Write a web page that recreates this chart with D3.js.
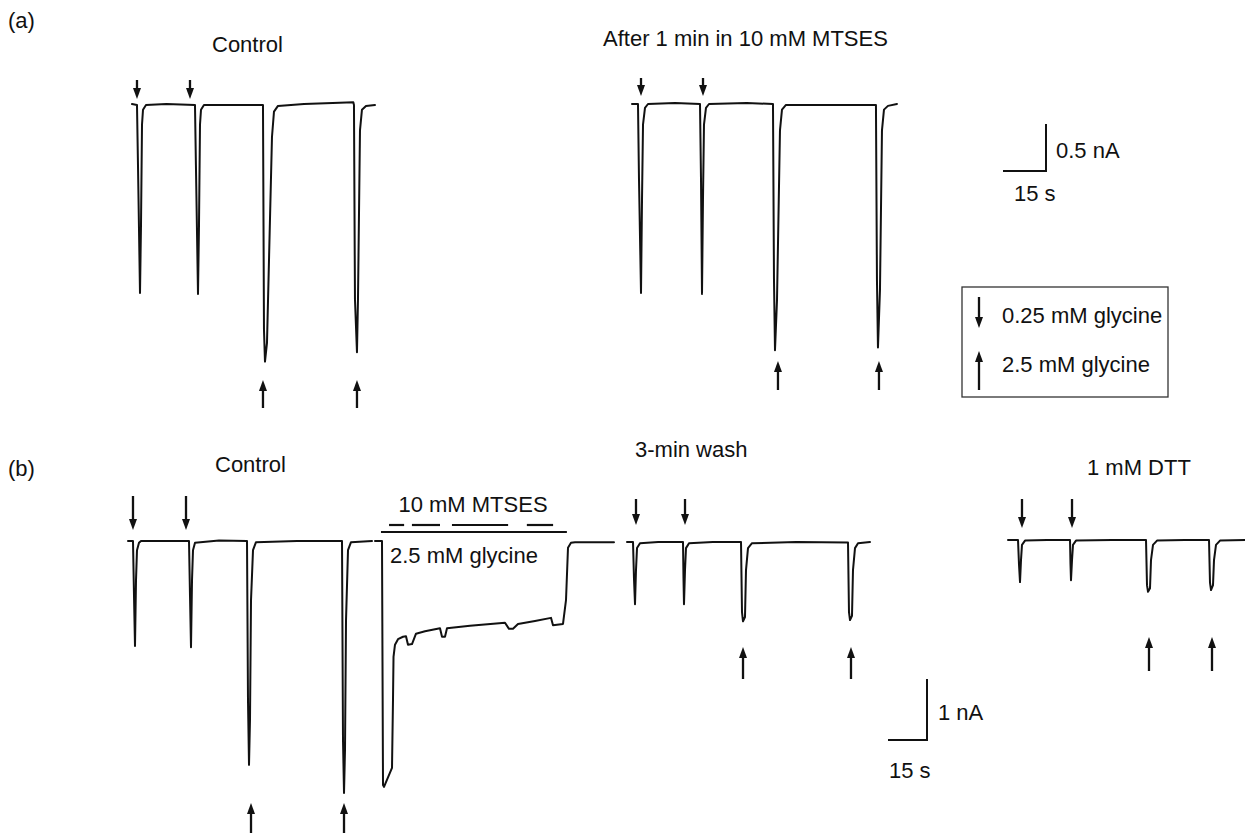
<!DOCTYPE html>
<html>
<head>
<meta charset="utf-8">
<script src="https://cdn.jsdelivr.net/npm/d3@7"></script>
<style>
  html, body { margin: 0; padding: 0; background: #fff; }
  svg { display: block; }
  text { font-family: 'Liberation Sans', Arial, Helvetica, sans-serif; fill: #111; }
</style>
</head>
<body>
<svg id="chart" width="1245" height="835"></svg>
<script>
// ---------------- DATA (time in s from trace start, current in nA) ----------------
const aControl = [
  [0,0.01],[1.74,0],[2.09,-0.64],[2.79,-2.00],[3.14,-1.28],[3.49,-0.21],[3.84,-0.05],[4.88,0],
  [12,0.01],[21.97,0],[22.3,-0.64],[23.02,-2.01],[23.37,-1.28],[23.72,-0.21],[24.07,-0.05],[25.1,0],
  [35,0],[45.69,0],[46.04,-2.39],[46.39,-2.73],[47.09,-2.53],[48.83,-0.34],[49.53,-0.07],[50.92,-0.01],
  [60,0.01],[70,0.02],[77.2,0.03],[77.43,0],[77.78,-2.07],[78.48,-2.63],[78.83,-2.07],[79.53,-0.27],[80.22,-0.05],[81.62,-0.01],[84.76,0]
];
const aMtses = [
  [0,0],[2.09,0],[2.44,-0.8],[3.14,-2.01],[3.49,-1.02],[3.84,-0.22],[4.53,-0.04],[5.58,0],
  [15,0.01],[23.72,0],[24.07,-0.8],[24.42,-2.02],[24.76,-1.02],[25.11,-0.22],[25.81,-0.04],[26.86,0],
  [40,0.01],[49.18,0],[49.53,-1.87],[49.88,-2.62],[50.58,-2.09],[51.62,-0.28],[52.32,-0.06],[53.71,-0.01],
  [70,-0.01],[85.1,-0.01],[85.45,-1.87],[85.8,-2.59],[86.5,-1.98],[87.2,-0.28],[87.9,-0.06],[89.29,-0.02],[92.43,0]
];
const bControl = [
  [0,0],[1.92,0],[2.31,-0.9],[2.69,-1.72],[3.08,-0.64],[3.46,-0.15],[4.23,-0.03],[5,0],
  [15,0],[23.46,0],[23.85,-0.9],[24.23,-1.74],[24.62,-0.64],[25.0,-0.15],[25.77,-0.03],
  [35,0.01],[45.77,0],[46.15,-2.61],[46.54,-3.67],[46.92,-2.93],[47.31,-0.97],[48.08,-0.15],[49.23,-0.02],
  [65,0],[82.31,0],[82.69,-3.26],[83.08,-4.13],[83.46,-3.43],[83.85,-1.30],[84.62,-0.15],[85.77,-0.02],[93.85,0]
];
const bMtses = [
  [0,0],[2.69,0],[3.08,-4.0],[3.46,-4.03],[6.54,-3.72],[6.92,-2.61],[7.12,-1.90],[7.69,-1.70],[8.85,-1.61],
  [10.77,-1.57],[11.92,-1.56],[12.69,-1.70],[14.23,-1.69],[15.77,-1.52],[19.23,-1.48],[25.0,-1.43],[25.77,-1.57],
  [26.92,-1.57],[27.69,-1.43],[36.54,-1.39],[50.0,-1.34],[51.54,-1.44],[53.08,-1.44],[55.0,-1.36],[61.54,-1.31],
  [67.69,-1.26],[68.46,-1.38],[72.31,-1.36],[73.46,-0.97],[74.23,-0.11],[75.38,-0.03],[76.92,-0.02],[91.92,-0.02]
];
const bWash = [
  [0,0],[2.31,0],[2.69,-0.6],[3.08,-1.02],[3.46,-0.46],[3.85,-0.10],[5.0,-0.02],[12,0],
  [21.54,0],[21.73,-0.6],[21.92,-1.02],[22.31,-0.46],[22.69,-0.10],[23.85,-0.02],
  [33,0],[43.85,0],[44.23,-1.15],[44.62,-1.30],[45.38,-1.23],[45.77,-0.46],[46.54,-0.10],[48.08,-0.02],
  [65,0],[85.0,-0.01],[85.38,-1.15],[85.77,-1.28],[86.54,-1.21],[86.92,-0.46],[87.69,-0.10],[88.85,-0.02],[93.46,0]
];
const bDtt = [
  [0,0],[3.85,0],[4.23,-0.4],[4.62,-0.69],[5.0,-0.33],[5.38,-0.08],[6.54,-0.01],[15,0],
  [23.85,0],[24.04,-0.4],[24.23,-0.66],[24.62,-0.33],[25.0,-0.08],[26.15,-0.01],
  [40,0],[53.08,0],[53.46,-0.74],[53.85,-0.85],[54.62,-0.79],[55.0,-0.33],[55.77,-0.08],[57.31,-0.01],
  [68,0],[77.31,0],[77.69,-0.70],[78.08,-0.82],[78.85,-0.74],[79.23,-0.33],[80.0,-0.08],[81.54,-0.01],[91.15,0]
];
// MTSES application bars during 2.5 mM glycine (s from trace start)
const mtsesDashes = [[5.4,11.2],[14.2,25.0],[29.6,51.2],[58.4,68.5]];
const glycineBar = [2.3, 73.8];

// stimulus times (s from trace start): down = 0.25 mM, up = 2.5 mM glycine
const aControlDown = [1.74, 20.23], aControlUp = [45.69, 78.48];
const aMtsesDown = [3.14, 24.77],  aMtsesUp = [50.92, 86.15];
const bControlDown = [1.92, 22.31], bControlUp = [47.31, 83.08];
const bWashDown = [3.46, 22.31],   bWashUp = [44.62, 86.15];
const bDttDown = [5.38, 24.62],    bDttUp = [54.23, 78.46];

// scale bars [seconds, nA]
const scaleBarA = [15, 0.5];
const scaleBarB = [15, 1];
const scaleLabelsA = ["0.5 nA", "15 s"];
const scaleLabelsB = ["1 nA", "15 s"];
const legendLabels = ["0.25 mM glycine", "2.5 mM glycine"];

// ---------------- LAYOUT ----------------
const svg = d3.select("#chart");
svg.append("rect").attr("width", 1245).attr("height", 835).attr("fill", "#fff");
const INK = "#111";

const pxPerSecA = 43 / 15, pxPerNAA = 47 / 0.5;
const pxPerSecB = 39 / 15, pxPerNAB = 61;

function scales(x0, y0, pps, ppn) {
  return {
    x: d3.scaleLinear().domain([0, 15]).range([x0, x0 + 15 * pps]),
    y: d3.scaleLinear().domain([0, -1]).range([y0, y0 + ppn])
  };
}

function drawTrace(data, s, w) {
  const line = d3.line().x(d => s.x(d[0])).y(d => s.y(d[1]));
  svg.append("path").datum(data).attr("d", line)
    .attr("fill", "none").attr("stroke", INK).attr("stroke-width", w || 2)
    .attr("stroke-linejoin", "round").attr("stroke-linecap", "round");
}

function arrow(x, yFrom, yTip) {
  const dir = yTip > yFrom ? 1 : -1;
  const hl = 11, hw = 4;
  svg.append("line").attr("x1", x).attr("x2", x).attr("y1", yFrom).attr("y2", yTip - dir * hl + dir)
    .attr("stroke", INK).attr("stroke-width", 2.3);
  svg.append("path")
    .attr("d", `M${x - hw},${yTip - dir * hl} L${x + hw},${yTip - dir * hl} L${x},${yTip} Z`)
    .attr("fill", INK);
}

function arrows(times, s, yFrom, yTip) {
  times.forEach(t => arrow(s.x(t), yFrom, yTip));
}

function label(txt, x, y, anchor, size) {
  svg.append("text").attr("x", x).attr("y", y).attr("text-anchor", anchor || "start")
    .attr("font-size", size || 22).text(txt);
}

// ---------- Panel (a) ----------
label("(a)", 8, 28, "start", 22);
label("Control", 212, 52);
label("After 1 min in 10 mM MTSES", 603, 46);

const sAC = scales(132, 105, pxPerSecA, pxPerNAA);
drawTrace(aControl, sAC);
arrows(aControlDown, sAC, 80, 99);
arrows(aControlUp, sAC, 408, 380);

const sAM = scales(632, 104, pxPerSecA, pxPerNAA);
drawTrace(aMtses, sAM);
arrows(aMtsesDown, sAM, 78, 96);
arrows(aMtsesUp, sAM, 390, 361);

// scale bar (a)
const sbA = scales(1003, 171, pxPerSecA, pxPerNAA);
svg.append("path")
  .attr("d", `M${sbA.x(0)},${sbA.y(0)} L${sbA.x(scaleBarA[0])},${sbA.y(0)} L${sbA.x(scaleBarA[0])},${sbA.y(scaleBarA[1])}`)
  .attr("fill", "none").attr("stroke", INK).attr("stroke-width", 2);
label(scaleLabelsA[0], 1056, 158);
label(scaleLabelsA[1], 1014, 201);

// legend
svg.append("rect").attr("x", 962).attr("y", 287).attr("width", 206).attr("height", 110)
  .attr("fill", "none").attr("stroke", "#333").attr("stroke-width", 1.3);
arrow(979, 297, 328);
arrow(979, 390, 351);
label(legendLabels[0], 1002, 323);
label(legendLabels[1], 1002, 372);

// ---------- Panel (b) ----------
label("(b)", 8, 476, "start", 22);
label("Control", 215, 472);
label("3-min wash", 635, 457);
label("1 mM DTT", 1087, 475);
label("10 mM MTSES", 473, 512, "middle");
label("2.5 mM glycine", 390, 563);

const sBC = scales(128, 541, pxPerSecB, pxPerNAB);
drawTrace(bControl, sBC);
arrows(bControlDown, sBC, 496, 530);
arrows(bControlUp, sBC, 833, 803);

const sBM = scales(375, 541, pxPerSecB, pxPerNAB);
drawTrace(bMtses, sBM);
mtsesDashes.forEach(d => {
  svg.append("line").attr("x1", sBM.x(d[0])).attr("x2", sBM.x(d[1]))
    .attr("y1", 525).attr("y2", 525).attr("stroke", INK).attr("stroke-width", 2.2);
});
svg.append("line").attr("x1", sBM.x(glycineBar[0])).attr("x2", sBM.x(glycineBar[1]))
  .attr("y1", 532).attr("y2", 532).attr("stroke", INK).attr("stroke-width", 1.8);

const sBW = scales(627, 542, pxPerSecB, pxPerNAB);
drawTrace(bWash, sBW);
arrows(bWashDown, sBW, 499, 525);
arrows(bWashUp, sBW, 679, 647);

const sBD = scales(1008, 540, pxPerSecB, pxPerNAB);
drawTrace(bDtt, sBD);
arrows(bDttDown, sBD, 499, 528);
arrows(bDttUp, sBD, 671, 637);

// scale bar (b)
const sbB = scales(888, 740, pxPerSecB, pxPerNAB);
svg.append("path")
  .attr("d", `M${sbB.x(0)},${sbB.y(0)} L${sbB.x(scaleBarB[0])},${sbB.y(0)} L${sbB.x(scaleBarB[0])},${sbB.y(scaleBarB[1])}`)
  .attr("fill", "none").attr("stroke", INK).attr("stroke-width", 2);
label(scaleLabelsB[0], 938, 720);
label(scaleLabelsB[1], 889, 778);
</script>
</body>
</html>
